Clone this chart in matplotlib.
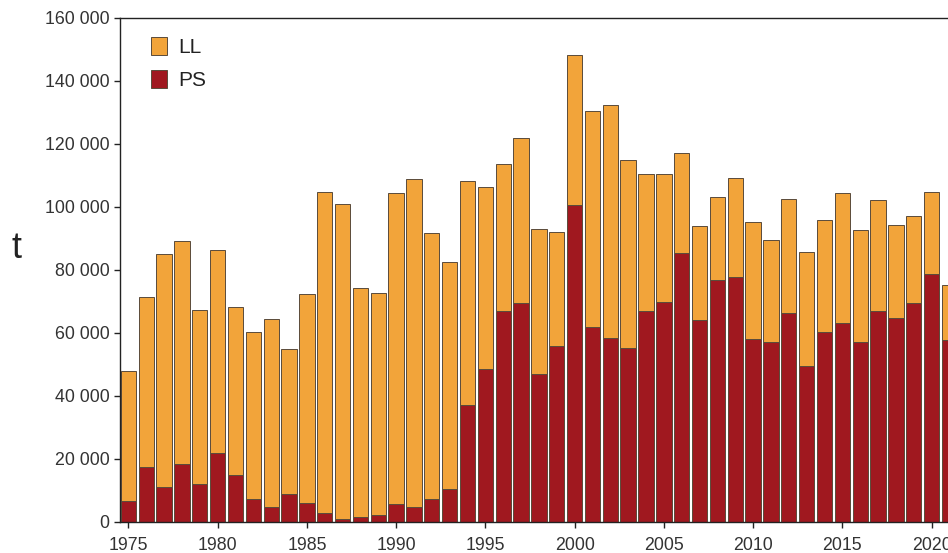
import matplotlib
matplotlib.use("Agg")
import matplotlib.pyplot as plt
from matplotlib.ticker import FuncFormatter, MultipleLocator
from matplotlib.patches import Patch

years = list(range(1975, 2022))
ps = [6700, 17300, 11000, 18500, 12000, 22000, 15000, 7200, 4600, 9000,
      6100, 2700, 1100, 1600, 2100, 5800, 4900, 7400, 10400, 37000,
      48600, 66900, 69400, 46800, 55900, 100500, 61800, 58200, 55100, 67000,
      69700, 85300, 64200, 76900, 77700, 58100, 57000, 66300, 49600, 60300,
      63000, 57100, 67000, 64700, 69300, 78600, 57700]
total = [48000, 71400, 85000, 89000, 67300, 86400, 68300, 60100, 64500, 55000,
         72300, 104800, 101000, 74200, 72700, 104300, 108800, 91600, 82600, 108000,
         106300, 113600, 121700, 92800, 92100, 148000, 130300, 132400, 114800, 110300,
         110300, 116900, 94000, 103200, 109000, 95000, 89300, 102300, 85700, 95700,
         104300, 92600, 102200, 94200, 97000, 104500, 75300]
ll = [t - p for t, p in zip(total, ps)]

ll_color = "#F2A43A"
ps_color = "#A0181F"
edge = "#5a4a3a"
txt = "#333333"

plt.rcParams["font.family"] = ["Liberation Sans", "DejaVu Sans"]

fig = plt.figure(figsize=(9.48, 5.53), dpi=100)
ax = fig.add_axes([120/948, 31/553, 828/948, 504.5/553])

ax.bar(years, ps, width=0.86, color=ps_color, edgecolor=edge, linewidth=0.7, label="PS")
ax.bar(years, ll, width=0.86, bottom=ps, color=ll_color, edgecolor=edge, linewidth=0.7, label="LL")

ax.set_xlim(1974.53, 2020.92)
ax.set_ylim(0, 160000)
ax.yaxis.set_major_locator(MultipleLocator(20000))
ax.xaxis.set_major_locator(MultipleLocator(5))
ax.yaxis.set_major_formatter(FuncFormatter(lambda v, p: f"{int(v):,}".replace(",", " ")))
ax.xaxis.set_major_formatter(FuncFormatter(lambda v, p: f"{int(v)}"))

for s in ["left", "top", "bottom"]:
    ax.spines[s].set_color("#222222")
    ax.spines[s].set_linewidth(1.0)
ax.spines["right"].set_visible(False)

ax.tick_params(axis="both", direction="out", length=4.5, width=1, color="#222222",
               labelsize=12.8, labelcolor=txt)
ax.tick_params(axis="y", pad=3)
ax.tick_params(axis="x", pad=6.3)

fig.text(17/948, 1 - 249/553, "t", fontsize=26, color="#222222", ha="center", va="center")

handles = [Patch(facecolor=ll_color, edgecolor=edge, linewidth=0.7, label="LL"),
           Patch(facecolor=ps_color, edgecolor=edge, linewidth=0.7, label="PS")]
leg = ax.legend(handles=handles, loc="upper left", frameon=False, fontsize=15,
                handlelength=0.78, handleheight=0.95, handletextpad=0.55,
                labelspacing=0.62, borderaxespad=0.0, borderpad=0.0,
                bbox_to_anchor=(0.0374, 0.962))
for t in leg.get_texts():
    t.set_color("#222222")

fig.savefig("out.png", dpi=100)
